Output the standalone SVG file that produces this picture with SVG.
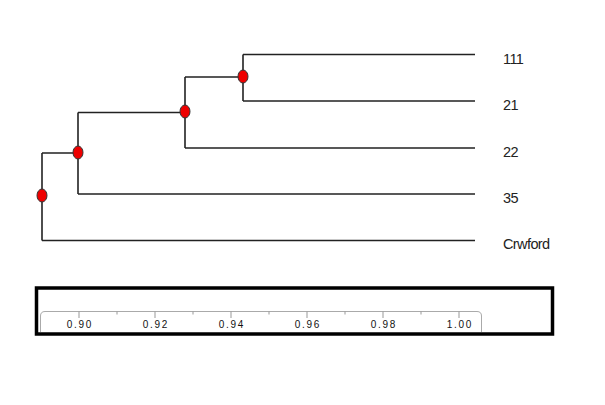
<svg xmlns="http://www.w3.org/2000/svg" width="605" height="405" viewBox="0 0 605 405">
<style>
.br{fill:none;stroke:#222;stroke-width:1.6}
.nd{fill:#ee0000;stroke:#333;stroke-width:1}
.lb{font-family:"Liberation Sans",Arial,sans-serif;font-size:14.5px;fill:#222;letter-spacing:-0.6px}
.ax{fill:none;stroke:#aaa;stroke-width:1}
.tk{stroke:#999;stroke-width:1}
.tl{font-family:"Liberation Sans",Arial,sans-serif;font-size:10px;fill:#111;letter-spacing:1.7px;text-anchor:middle}
</style>
<rect width="605" height="405" fill="#fff"/>
<g id="connectors">
<path class="br" d="M243,54.5V101M243,54.5H475M243,101H475"/>
<path class="br" d="M185,77V148M185,77H243M185,148H475"/>
<path class="br" d="M78,112.5V194M78,112.5H185M78,194H475"/>
<path class="br" d="M42,153V240.5M42,153H78M42,240.5H475"/>
</g>
<g id="node-a"><ellipse class="nd" cx="243" cy="76.5" rx="5" ry="6.5"/></g>
<g id="node-b"><ellipse class="nd" cx="185" cy="111.5" rx="5" ry="6.5"/></g>
<g id="node-c"><ellipse class="nd" cx="78" cy="152.5" rx="5" ry="6.5"/></g>
<g id="node-root"><ellipse class="nd" cx="42" cy="195.5" rx="5" ry="6.5"/></g>
<g id="leaf-111"><text class="lb" x="503" y="63.5">111</text></g>
<g id="leaf-21"><text class="lb" x="503" y="110">21</text></g>
<g id="leaf-22"><text class="lb" x="503" y="156.5">22</text></g>
<g id="leaf-35"><text class="lb" x="503" y="203">35</text></g>
<g id="leaf-crwford"><text class="lb" x="503" y="249">Crwford</text></g>
<g id="scale">
<rect x="36.5" y="288" width="516" height="46" fill="none" stroke="#000" stroke-width="3.5"/>
<path class="ax" d="M40.5,332V316Q40.5,311.5 45,311.5H477Q481.5,311.5 481.5,316V332"/>
<path class="tk" d="M79,311.5V318M155,311.5V318M231,311.5V318M307,311.5V318M383,311.5V318M459,311.5V318M117,311.5V314.5M193,311.5V314.5M269,311.5V314.5M345,311.5V314.5M421,311.5V314.5"/>
<text class="tl" x="80" y="327.5">0.90</text>
<text class="tl" x="156" y="327.5">0.92</text>
<text class="tl" x="232" y="327.5">0.94</text>
<text class="tl" x="308" y="327.5">0.96</text>
<text class="tl" x="384" y="327.5">0.98</text>
<text class="tl" x="460" y="327.5">1.00</text>
</g>
</svg>
